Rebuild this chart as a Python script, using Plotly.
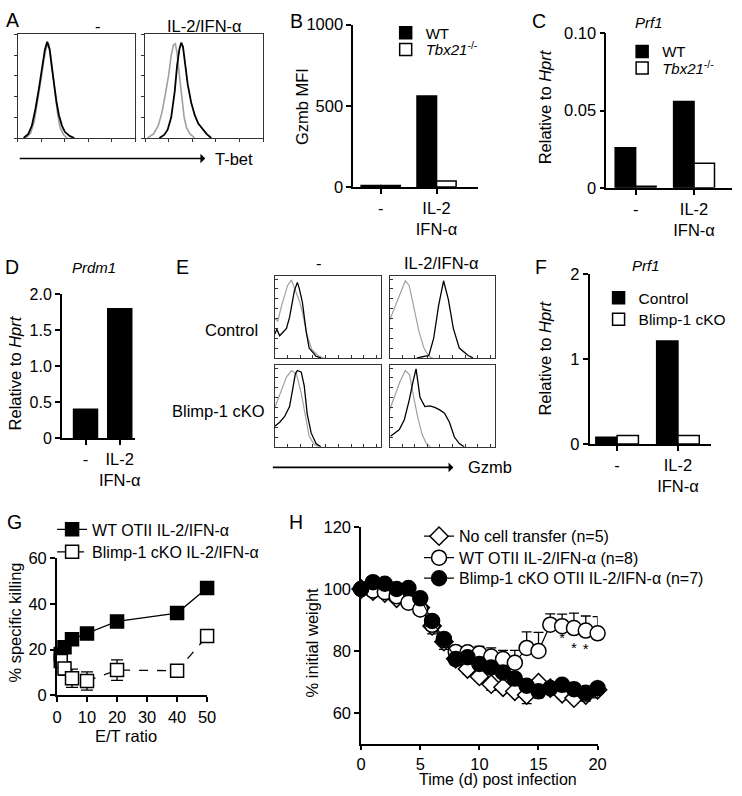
import plotly.graph_objects as go

W, H = 742, 796
FONT = "Liberation Sans, Arial, sans-serif"


def fx(p):
    return p / W


def fy(p):
    return 1 - p / H


# ---------------- data ----------------
bar_cats = ["-", "IL-2<br>IFN-α"]
b_wt = [8, 560]
b_tbx = [8, 36]
c_wt = [0.026, 0.056]
c_tbx = [0.001, 0.016]
d_prdm1 = [0.4, 1.8]
f_ctrl = [0.08, 1.21]
f_cko = [0.1, 0.1]

# flow histograms (x: relative channel 0-100, y: % of max)
a1_gray_x = [7, 11, 14, 17, 20, 22, 24, 26, 28, 30, 32, 34, 36, 39, 42]
a1_gray_y = [0, 5, 16, 36, 58, 74, 86, 92, 80, 60, 40, 22, 10, 3, 0]
a1_blk_x = [5, 9, 12, 15, 18, 21, 23, 25, 27, 29, 31, 33, 35, 37.5, 40, 44, 48]
a1_blk_y = [0, 4, 12, 28, 48, 70, 85, 93, 86, 68, 50, 34, 22, 12, 6, 2, 0]
a2_gray_x = [2, 7, 11, 14, 17, 20, 22, 24, 25.5, 27, 29, 31, 33, 35, 38, 42]
a2_gray_y = [0, 4, 12, 24, 42, 62, 80, 90, 91, 82, 60, 38, 20, 10, 4, 0]
a2_blk_x = [12, 16, 19, 22, 25, 27, 29, 30.5, 32, 34, 36, 39, 42, 45, 48, 52, 56]
a2_blk_y = [0, 3, 8, 20, 45, 70, 86, 92, 88, 72, 52, 34, 22, 14, 10, 4, 0]

e_tl_gray_x = [0, 2.8, 6.5, 9.3, 12, 15.7, 20.4, 23, 26, 30.6, 35, 41.7, 46]
e_tl_gray_y = [48, 45, 64, 75, 88, 95, 80, 70, 56, 27, 10, 2, 0]
e_tl_blk_x = [0, 1.9, 4.6, 8.3, 11, 14, 15.7, 18.5, 21.3, 23, 26, 29.6, 32.4, 38.9, 43.5]
e_tl_blk_y = [29, 35, 27, 33, 36, 50, 64, 82, 92, 85, 68, 32, 12, 2, 0]
e_tr_gray_x = [0, 5.6, 10.3, 15, 18.7, 23.4, 28, 32.7, 37.4, 41]
e_tr_gray_y = [46, 64, 80, 94, 88, 60, 32, 12, 2, 0]
e_tr_blk_x = [26, 30.8, 37.4, 42, 46.7, 51.4, 56, 60.7, 66.4, 74.8, 79.4]
e_tr_blk_y = [0, 1, 3, 24, 64, 94, 71, 36, 12, 3, 0]
e_bl_gray_x = [0, 6.5, 11, 15.7, 20.4, 25, 29.6, 32.4, 37, 41.7]
e_bl_gray_y = [48, 69, 85, 93, 89, 65, 33, 13, 3, 0]
e_bl_blk_x = [0, 4.6, 9.3, 13.9, 16.7, 19.4, 21.3, 25, 27.8, 30.6, 34.3, 38.9, 43.5]
e_bl_blk_y = [25, 30, 37, 49, 69, 89, 93, 91, 74, 40, 17, 4, 0]
e_br_gray_x = [0, 5, 10, 15, 19, 23, 27, 31, 35, 39]
e_br_gray_y = [45, 62, 80, 93, 88, 60, 35, 15, 4, 0]
e_br_blk_x = [0.9, 9.3, 14, 18.7, 22.4, 25.2, 29, 33.6, 38.3, 43, 47.7, 52.3, 57, 61.7, 66.4, 71]
e_br_blk_y = [13, 21, 33, 57, 80, 95, 60, 49, 50, 48, 45, 41, 30, 12, 4, 0]

# G: killing assay
et_ratio = [1.25, 2.5, 5, 10, 20, 40, 50]
g_wt = [18, 21, 24.5, 27, 32.3, 36, 47]
g_wt_err = [2, 1, 1, 1, 1, 1, 1]
g_cko = [15, 11.7, 7.4, 6.2, 11, 10.7, 25.9]
g_cko_err = [2, 3, 4, 4, 4.5, 1.2, 1]

# H: weight curves
days = list(range(21))
h_none = [100, 99.3, 98.7, 97, 96.3, 94, 88.1, 83, 77.5, 74.2, 71.8, 69.3, 68.3, 67, 65.8, 69.8, 68, 66.2, 64.8, 65.8, 67.5]
h_none_err = [0, 0.5, 0.5, 0.5, 0.8, 1, 2.6, 2.5, 2, 1.7, 1.5, 2, 1.5, 1.2, 2.8, 1.5, 1.2, 1.2, 1.2, 1.5, 1.5]
h_wt = [100, 99.5, 99, 97.7, 95.6, 93.4, 88.5, 83.5, 79.7, 79.6, 79.2, 78.2, 77.4, 76.2, 81, 80, 88.5, 88, 87.4, 86.6, 85.7]
h_wt_err = [0, 0.5, 0.5, 0.8, 0.8, 1, 1.2, 1.2, 1.2, 1.5, 2.3, 2.8, 2.8, 4, 5.2, 6, 3.5, 3.9, 4.8, 4.7, 5.4]
h_cko = [100, 102.2, 101.7, 100, 100.3, 97, 89.7, 83.9, 77.4, 78, 75.8, 74.7, 73.1, 71.1, 68.8, 67, 68, 69.1, 67.7, 66.5, 68]
h_cko_err = [0, 0.5, 0.5, 0.5, 0.8, 1, 1.5, 1.5, 2, 1.5, 1.5, 1.5, 1.5, 1.5, 1.5, 2.1, 1.5, 1.5, 1.5, 2.7, 3.1]
h_zero = [0] * 21
star_days = [17, 18, 19]
star_y = [83.7, 80.7, 80.2]

# ---------------- figure ----------------
fig = go.Figure()
FS = 16.5
TF = dict(size=FS, color="black", family=FONT)

base_ax = dict(showline=True, linecolor="black", linewidth=1.8, ticks="outside",
               ticklen=5, tickwidth=1.8, tickcolor="black", showgrid=False,
               zeroline=False, tickfont=TF)
hist_ax = dict(showline=True, mirror=True, linecolor="#333", linewidth=1.2,
               showgrid=False, zeroline=False, showticklabels=False,
               range=[0, 100], tickcolor="#333", tickwidth=1, ticklen=3)


def set_axes(n, x0, x1, y0, y1, xo, yo):
    xa = "xaxis" if n == 1 else f"xaxis{n}"
    ya = "yaxis" if n == 1 else f"yaxis{n}"
    fig.layout[xa] = dict(domain=[fx(x0), fx(x1)], anchor="y" if n == 1 else f"y{n}", **xo)
    fig.layout[ya] = dict(domain=[fy(y1), fy(y0)], anchor="x" if n == 1 else f"x{n}", **yo)


def ax(n, kind):
    return ("x" if n == 1 else f"x{n}") if kind == "x" else ("y" if n == 1 else f"y{n}")


# A histograms (axes 1,2)
a_tv = [0, 20, 40, 60, 80, 100]
set_axes(1, 13, 133, 26, 132, dict(hist_ax, ticks="outside", tickvals=a_tv), dict(hist_ax, ticks="outside", tickvals=a_tv))
set_axes(2, 143, 263, 26, 132, dict(hist_ax, ticks="outside", tickvals=a_tv), dict(hist_ax, ticks="outside", tickvals=a_tv))
GRAY = "#a0a0a0"
for n, gx, gy, bx, by in [(1, a1_gray_x, a1_gray_y, a1_blk_x, a1_blk_y),
                          (2, a2_gray_x, a2_gray_y, a2_blk_x, a2_blk_y)]:
    fig.add_trace(go.Scatter(x=gx, y=gy, mode="lines", line=dict(color=GRAY, width=1.6),
                             xaxis=ax(n, "x"), yaxis=ax(n, "y"), showlegend=False))
    fig.add_trace(go.Scatter(x=bx, y=by, mode="lines", line=dict(color="black", width=1.8),
                             xaxis=ax(n, "x"), yaxis=ax(n, "y"), showlegend=False))

BLACK_BAR = dict(color="black", line=dict(color="black", width=1.5))
WHITE_BAR = dict(color="white", line=dict(color="black", width=1.5))

# B bars (axis 3)
set_axes(3, 355, 482, 16, 182, dict(base_ax, range=[-0.49, 1.74]),
         dict(base_ax, range=[0, 1000], tickvals=[0, 500, 1000]))
fig.add_trace(go.Bar(x=bar_cats, y=b_wt, name="WT", marker=BLACK_BAR, xaxis="x3", yaxis="y3", legend="legend"))
fig.add_trace(go.Bar(x=bar_cats, y=b_tbx, name="<i>Tbx21</i><sup>-/-</sup>", marker=WHITE_BAR,
                     xaxis="x3", yaxis="y3", legend="legend2"))

# C bars (axis 4)
set_axes(4, 613, 741, 25, 183, dict(base_ax, range=[-0.5, 1.65]),
         dict(base_ax, range=[0, 0.1], tickvals=[0, 0.05, 0.1], ticktext=["0", "0.05", "0.10"]))
fig.add_trace(go.Bar(x=bar_cats, y=c_wt, name="WT", marker=BLACK_BAR, xaxis="x4", yaxis="y4", legend="legend3"))
fig.add_trace(go.Bar(x=bar_cats, y=c_tbx, name="<i>Tbx21</i><sup>-/-</sup>", marker=WHITE_BAR,
                     xaxis="x4", yaxis="y4", legend="legend4"))

# D bars (axis 5)
set_axes(5, 58, 133, 292, 439, dict(base_ax, range=[-0.69, 1.46]),
         dict(base_ax, range=[0, 2], tickvals=[0, 0.5, 1, 1.5, 2], ticktext=["0", "0.5", "1.0", "1.5", "2.0"],
              tickfont=dict(TF, size=16)))
fig.add_trace(go.Bar(x=bar_cats, y=d_prdm1, marker=BLACK_BAR, xaxis="x5", yaxis="y5", showlegend=False))

# E histograms (axes 6-9)
e_tv = [0, 12, 24, 36, 48, 60, 72, 84, 96]
e_ax = dict(hist_ax, ticks="inside", tickvals=e_tv)
for n, (x0, x1, y0, y1), gx, gy, bx, by in [
        (6, (275, 383, 273, 357), e_tl_gray_x, e_tl_gray_y, e_tl_blk_x, e_tl_blk_y),
        (7, (392, 499, 273, 357), e_tr_gray_x, e_tr_gray_y, e_tr_blk_x, e_tr_blk_y),
        (8, (275, 383, 364, 448), e_bl_gray_x, e_bl_gray_y, e_bl_blk_x, e_bl_blk_y),
        (9, (392, 499, 364, 448), e_br_gray_x, e_br_gray_y, e_br_blk_x, e_br_blk_y)]:
    set_axes(n, x0, x1, y0, y1, dict(e_ax), dict(e_ax))
    fig.add_trace(go.Scatter(x=gx, y=gy, mode="lines", line=dict(color=GRAY, width=1.2),
                             xaxis=ax(n, "x"), yaxis=ax(n, "y"), showlegend=False))
    fig.add_trace(go.Scatter(x=bx, y=by, mode="lines", line=dict(color="black", width=1.3),
                             xaxis=ax(n, "x"), yaxis=ax(n, "y"), showlegend=False))

# F bars (axis 10)
set_axes(10, 596, 720, 271, 445, dict(base_ax, range=[-0.45, 1.55]),
         dict(base_ax, range=[0, 2], tickvals=[0, 1, 2]))
fig.add_trace(go.Bar(x=bar_cats, y=f_ctrl, name="Control", marker=BLACK_BAR, xaxis="x10", yaxis="y10", legend="legend5"))
fig.add_trace(go.Bar(x=bar_cats, y=f_cko, name="Blimp-1 cKO", marker=WHITE_BAR,
                     xaxis="x10", yaxis="y10", legend="legend6"))

# G killing (axis 11)
set_axes(11, 53, 206, 562, 702, dict(base_ax, range=[0, 50], tickvals=[0, 10, 20, 30, 40, 50], ticklabelstandoff=1),
         dict(base_ax, range=[0, 60], tickvals=[0, 20, 40, 60]))
fig.add_trace(go.Scatter(x=et_ratio, y=g_wt, name="WT OTII IL-2/IFN-α", mode="lines+markers",
                         line=dict(color="black", width=1.3),
                         marker=dict(symbol="square", size=13, color="black", line=dict(color="black", width=1.5)),
                         error_y=dict(type="data", array=g_wt_err, color="black", thickness=1.3, width=6),
                         cliponaxis=False, xaxis="x11", yaxis="y11", legend="legend7"))
fig.add_trace(go.Scatter(x=et_ratio, y=g_cko, name="Blimp-1 cKO IL-2/IFN-α", mode="lines+markers",
                         line=dict(color="black", width=1.3, dash="dash"),
                         marker=dict(symbol="square", size=13, color="white", line=dict(color="black", width=1.5)),
                         error_y=dict(type="data", array=g_cko_err, color="black", thickness=1.3, width=6),
                         cliponaxis=False, xaxis="x11", yaxis="y11", legend="legend8"))

# H weight (axis 12)
set_axes(12, 363, 604, 530, 752,
         dict(base_ax, range=[0, 20], tickvals=[0, 5, 10, 15, 20], linewidth=1.6, tickwidth=1.6, ticklen=4),
         dict(base_ax, range=[50, 120], tickvals=[60, 80, 100, 120], linewidth=1.6, tickwidth=1.6))
fig.add_trace(go.Scatter(x=days, y=h_none, name="No cell transfer (n=5)", mode="lines+markers",
                         line=dict(color="black", width=1.2),
                         marker=dict(symbol="diamond", size=14, color="white", line=dict(color="black", width=1.5)),
                         error_y=dict(type="data", symmetric=False, array=h_zero, arrayminus=h_none_err,
                                      color="black", thickness=1.3, width=5),
                         cliponaxis=False, xaxis="x12", yaxis="y12", legend="legend9"))
fig.add_trace(go.Scatter(x=days, y=h_wt, name="WT OTII IL-2/IFN-α (n=8)", mode="lines+markers",
                         line=dict(color="black", width=1.2),
                         marker=dict(symbol="circle", size=15, color="white", line=dict(color="black", width=1.5)),
                         error_y=dict(type="data", symmetric=False, array=h_wt_err, arrayminus=h_zero,
                                      color="black", thickness=1.3, width=5),
                         cliponaxis=False, xaxis="x12", yaxis="y12", legend="legend10"))
fig.add_trace(go.Scatter(x=days, y=h_cko, name="Blimp-1 cKO OTII IL-2/IFN-α (n=7)", mode="lines+markers",
                         line=dict(color="black", width=1.2),
                         marker=dict(symbol="circle", size=15, color="black", line=dict(color="black", width=1.5)),
                         error_y=dict(type="data", symmetric=False, array=h_zero, arrayminus=h_cko_err,
                                      color="black", thickness=1.3, width=5),
                         cliponaxis=False, xaxis="x12", yaxis="y12", legend="legend11"))
fig.add_trace(go.Scatter(x=star_days, y=star_y, mode="text", text=["*"] * 3,
                         textfont=dict(size=15, color="black", family=FONT),
                         xaxis="x12", yaxis="y12", showlegend=False))


# ---------------- legends (one entry each, placed by symbol centre) ----------------
def leg(sym_x, cy, size):
    h = size * 1.3 + 3
    return dict(x=fx(sym_x - 20), y=fy(cy - 5 - h / 2), xanchor="left", yanchor="top",
                bgcolor="rgba(0,0,0,0)", font=dict(size=size, color="black", family=FONT),
                itemclick=False, itemdoubleclick=False)


legends = dict(
    legend=leg(408, 24, 15), legend2=leg(408, 41, 15),
    legend3=leg(649, 43, 15), legend4=leg(649, 60, 15),
    legend5=leg(625, 295, 15.5), legend6=leg(625, 317, 15.5),
    legend7=leg(68, 532, 16), legend8=leg(68, 555, 16),
    legend9=leg(442, 539, 16), legend10=leg(442, 561, 16), legend11=leg(442, 582, 16),
)

# ---------------- annotations ----------------
ann = []


def text(x, y, s, size=FS, xanchor="center", angle=0, italic=False):
    if italic:
        s = f"<i>{s}</i>"
    ann.append(dict(x=fx(x), y=fy(y), xref="paper", yref="paper", text=s, showarrow=False,
                    xanchor=xanchor, yanchor="middle", textangle=angle,
                    font=dict(size=size, color="black", family=FONT)))


for letter, x, y in [("A", 8, 11), ("B", 297, 12), ("C", 544, 12), ("D", 7, 264),
                     ("E", 181, 264), ("F", 546, 264), ("G", 10, 525), ("H", 297, 525)]:
    text(x, y, letter, size=19.5)

text(95, 17, "-", FS)
text(203, 17, "IL-2/IFN-α", FS)
text(656, 14, "Prf1", 15, italic=True)
text(91, 264, "Prdm1", 15, italic=True)
text(653, 262, "Prf1", 15, italic=True)
text(320, 260, "-", FS)
text(445, 260, "IL-2/IFN-α", FS)
text(260, 328, "Control", FS, xanchor="right")
text(267, 411, "Blimp-1 cKO", FS, xanchor="right")
text(302, 100, "Gzmb MFI", FS, angle=-90)
text(550, 100, "Relative to <i>Hprt</i>", FS, angle=-90)
text(10, 372, "Relative to <i>Hprt</i>", FS, angle=-90)
text(550, 357, "Relative to <i>Hprt</i>", FS, angle=-90)
text(10, 628, "% specific killing", FS, angle=-90)
text(313, 648, "% initial weight", FS, angle=-90)
text(123, 744, "E/T ratio", FS)
text(502, 788, "Time (d) post infection", 16)

# arrows with their labels: arrow tail at (x0, y), label centred at lx, head near the label
for x0, lx, y, label, head_gap in [(15, 229, 153, "T-bet", 8), (273, 490, 469, "Gzmb", 13)]:
    ann.append(dict(x=fx(x0), y=fy(y), xref="paper", yref="paper", ax=lx - x0, ay=0,
                    text=label, showarrow=True, arrowside="start", arrowhead=2, arrowsize=1.1,
                    arrowwidth=1.6, arrowcolor="black", standoff=0, startstandoff=head_gap,
                    font=dict(size=FS, color="black", family=FONT)))

fig.update_layout(
    width=W, height=H, margin=dict(l=0, r=0, t=0, b=0),
    paper_bgcolor="white", plot_bgcolor="rgba(0,0,0,0)",
    barmode="group", bargap=0.3, bargroupgap=0,
    font=dict(family=FONT, color="black"),
    annotations=ann,
    **legends,
)

fig.write_html("out.html", config={"displayModeBar": False},
               post_script="document.body.style.margin='0px';")
